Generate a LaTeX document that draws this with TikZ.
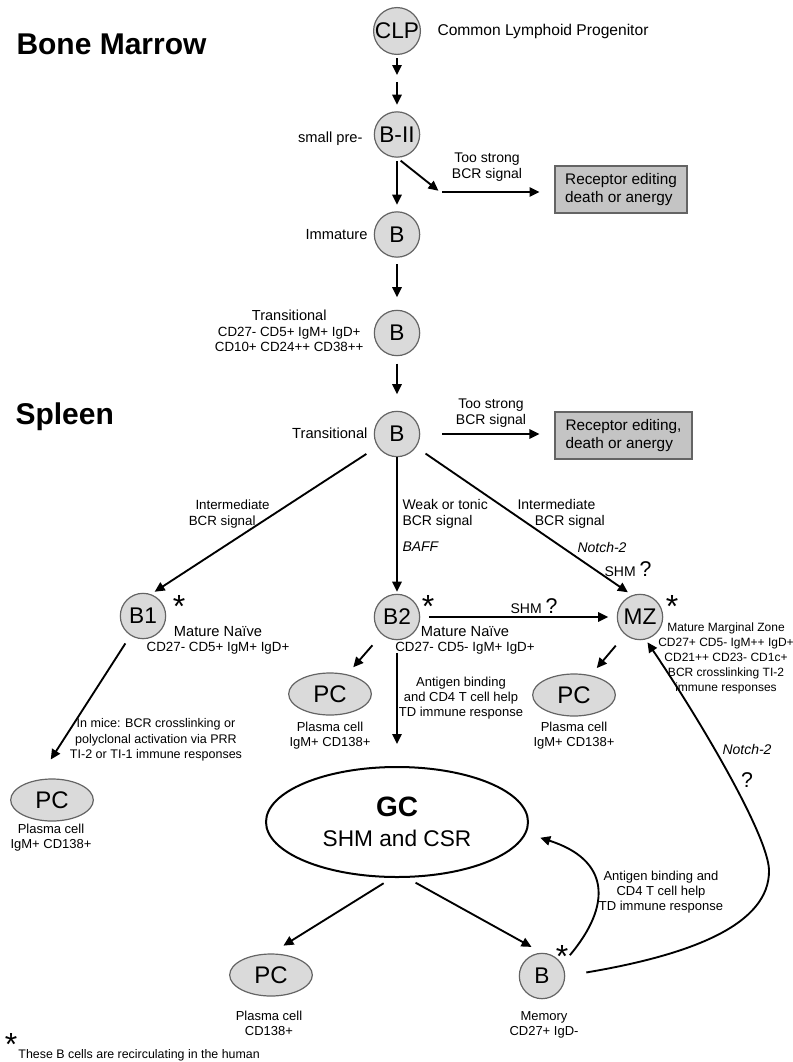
\documentclass[tikz,border=0pt]{standalone}
\usepackage{fontspec}
\setmainfont{Liberation Sans}
\usetikzlibrary{arrows.meta,shapes.geometric}
\definecolor{cellgray}{RGB}{218,218,218}
\definecolor{boxgray}{RGB}{196,196,196}
\definecolor{rimgray}{RGB}{100,100,100}
\newcommand{\astk}{\raisebox{-0.47em}[0.19em][0.19em]{*}}
\tikzset{every picture/.style={line width=0.75pt}}
\tikzset{
  cell/.style={circle,draw=rimgray,fill=cellgray,line width=0.9pt,minimum size=34pt,inner sep=0pt,font=\fontsize{17}{17}\selectfont},
  pcell/.style={ellipse,draw=rimgray,fill=cellgray,line width=0.9pt,minimum width=62pt,minimum height=31.5pt,inner sep=0pt,font=\fontsize{18}{18}\selectfont},
  fate/.style={rectangle,draw=rimgray,fill=boxgray,line width=1.1pt,minimum width=99pt,minimum height=35pt,inner sep=4pt,align=left,font=\fontsize{11.5}{13}\selectfont},
  arr/.style={-{Triangle[length=7.5pt,width=7pt]},line width=1.4pt},
  lbl/.style={inner sep=0.75pt,align=center,font=\fontsize{10.5}{12.5}\selectfont},
  small/.style={inner sep=0.75pt,align=center,font=\fontsize{9.75}{11.25}\selectfont},
  side/.style={inner sep=0pt,anchor=base east,font=\fontsize{11}{13}\selectfont},
  star/.style={inner sep=0pt,font=\fontsize{24}{24}\selectfont},
  region/.style={inner sep=0pt,anchor=base west,font=\fontsize{22.5}{22.5}\selectfont\bfseries},
}

\begin{document}
\begin{tikzpicture}[x=0.75pt,y=0.75pt,yscale=-1,xscale=1]
\useasboundingbox (0,0) rectangle (792,1062);

% Region titles
\draw (16,55) node [region] (bm) {Bone Marrow};
\draw (15,424) node [region] (spl) {Spleen};

%Shape: Circle cells
\draw (397,31) node [cell] (clp) {CLP};
\draw (397,134.5) node [cell] (bii) {B-II};
\draw (397,234.5) node [cell] (imm) {B};
\draw (397,333) node [cell] (tbm) {B};
\draw (397,434) node [cell] (tsp) {B};
\draw (143,616) node [cell] (b1) {B1};
\draw (397,617) node [cell] (b2) {B2};
\draw (640,617) node [cell] (mz) {MZ};
\draw (542,976) node [cell] (bmem) {B};

%Shape: Ellipse plasma cells
\draw (52,800) node [pcell] (pc1) {PC};
\draw (330,694) node [pcell] (pc2) {PC};
\draw (574,695) node [pcell] (pc3) {PC};
\draw (271,975) node [pcell] (pc4) {PC};

%Shape: Ellipse germinal centre
\draw (397,822) node [ellipse,draw=black,fill=white,line width=1.5pt,minimum width=196.5pt,minimum height=82.5pt,inner sep=0pt,align=center,font=\fontsize{17}{22.5}\selectfont] (gc) {{\fontsize{21}{21}\selectfont\bfseries GC}\\SHM and CSR};

%Shape: Rectangle
\draw (621,189.5) node [fate] (box1) {Receptor editing\\death or anergy};
\draw (623.5,435.5) node [fate,minimum width=103pt] (box2) {Receptor editing,\\death or anergy};

% Text Node
\draw (437,36) node [anchor=base west,inner sep=0pt,font=\fontsize{11.7}{14}\selectfont] (clplbl) {Common Lymphoid Progenitor};
% Text Node
\draw (363,143) node [side] (biilbl) {small pre-};
% Text Node
\draw (368,240) node [side] (immlbl) {Immature};
% Text Node
\draw (365,331) node [anchor=east,inner sep=0.75pt,align=center,font=\fontsize{10}{11.6}\selectfont] (tbmlbl) {{\fontsize{10.9}{11.6}\selectfont Transitional}\\CD27- CD5+ IgM+ IgD+\\CD10+ CD24++ CD38++};
% Text Node
\draw (368,438) node [side] (tsplbl) {Transitional};
% Text Node
\draw (487,167) node [lbl] (strong1) {Too strong\\BCR signal};
% Text Node
\draw (491,413) node [lbl] (strong2) {Too strong\\BCR signal};
% Text Node
\draw (194,514) node [lbl,anchor=west,align=left,font=\fontsize{10}{12}\selectfont] (intl) {Intermediate\\\hspace*{-5pt}BCR signal};
% Text Node
\draw (401,514) node [lbl,anchor=west,align=left] (weak) {Weak or tonic\\BCR signal};
% Text Node
\draw (401,547) node [lbl,anchor=west] (baff) {\itshape BAFF};
% Text Node
\draw (516,514) node [lbl,anchor=west,align=left] (intr) {Intermediate\\\hspace*{13pt}BCR signal};
% Text Node
\draw (602,547) node [lbl] (notcha) {\itshape Notch-2};
% Text Node
\draw (628,569) node [lbl] (shma) {SHM {\fontsize{16}{16}\selectfont ?}};
% Text Node
\draw (534,606) node [lbl] (shmb) {SHM {\fontsize{16}{16}\selectfont ?}};
% Text Node
\draw (218,640) node [small,font=\fontsize{10}{11.25}\selectfont] (b1lbl) {{\fontsize{11}{11.25}\selectfont Mature Naïve}\\CD27- CD5+ IgM+ IgD+};
% Text Node
\draw (465,640) node [small,font=\fontsize{10}{11.25}\selectfont] (b2lbl) {{\fontsize{11}{11.25}\selectfont Mature Naïve}\\CD27- CD5- IgM+ IgD+};
% Text Node
\draw (726,658) node [small,font=\fontsize{9}{11.25}\selectfont] (mzlbl) {Mature Marginal Zone\\CD27+ CD5- IgM++ IgD+\\CD21++ CD23- CD1c+\\BCR crosslinking TI-2\\immune responses};
% Text Node
\draw (461,698) node [small] (tdb2) {Antigen binding\\and CD4 T cell help\\TD immune response};
% Text Node
\draw (156,740) node [small,font=\fontsize{9.4}{11.6}\selectfont] (mice) {In mice: BCR crosslinking or\\polyclonal activation via PRR\\TI-2 or TI-1 immune responses};
% Text Node
\draw (330,735.5) node [small] (pc2lbl) {Plasma cell\\IgM+ CD138+};
% Text Node
\draw (574,735.5) node [small] (pc3lbl) {Plasma cell\\IgM+ CD138+};
% Text Node
\draw (51,838) node [small] (pc1lbl) {Plasma cell\\IgM+ CD138+};
% Text Node
\draw (269,1023.5) node [small] (pc4lbl) {Plasma cell\\CD138+};
% Text Node
\draw (544,1024.5) node [small] (memlbl) {Memory\\CD27+ IgD-};
% Text Node
\draw (661,892) node [small] (tdmem) {Antigen binding and\\CD4 T cell help\\TD immune response};
% Text Node
\draw (747,749) node [lbl] (notchb) {\itshape Notch-2};
% Text Node
\draw (747,780) node [lbl,font=\fontsize{16}{16}\selectfont] (qmark) {?};
% Text Node
\draw (18,1058.5) node [anchor=base west,inner sep=0pt,font=\fontsize{9.3}{11}\selectfont] (note) {These B cells are recirculating in the human};

% Asterisks
\draw (179,602) node [star] (s1) {\astk};
\draw (428,602) node [star] (s2) {\astk};
\draw (672,602) node [star] (s3) {\astk};
\draw (562,952) node [star] (s4) {\astk};
\draw (11,1040) node [star] (s5) {\astk};

%Straight Lines
\coordinate (clpgap) at (397,78.5);
\coordinate (split) at (440,192);
\draw [arr,shorten <=2.6pt,shorten >=2.6pt] (clp) -- (clpgap);
\draw [arr,shorten <=2.6pt,shorten >=4.9pt] (clpgap) -- (bii);
\draw [arr,shorten <=2.6pt,shorten >=4.9pt] (bii) -- (imm);
\draw [arr,shorten <=3.5pt,shorten >=1.5pt] (bii.south) -- (split);
\draw [arr,shorten <=1.5pt,shorten >=11pt] (split) -- (split -| box1.west);
\draw [arr,shorten <=5pt,shorten >=9.4pt] (imm) -- (tbm);
\draw [arr,shorten <=5.6pt,shorten >=12.4pt] (tbm) -- (tsp);
\draw [arr,shorten <=16.5pt,shorten >=11pt] (tsp.east) -- (tsp.east -| box2.west);
\draw [arr,shorten <=10pt,shorten >=3.3pt] (tsp) -- (b1.70);
\draw [arr,shorten >=1.5pt] (tsp) -- (b2);
\draw [arr,shorten <=8.5pt,shorten >=3.8pt] (tsp) -- (mz.110);
\draw [arr,shorten <=6.4pt,shorten >=6.4pt] (b2) -- (mz);
\draw [arr,shorten <=7pt,shorten >=18pt] (b1) -- (pc1.125);
\draw [arr,shorten <=10.7pt,shorten >=7pt] (b2) -- (pc2);
\draw [arr,shorten <=10.7pt,shorten >=7pt] (mz) -- (pc3);
\draw [arr,shorten <=9.4pt,shorten >=16.5pt] (b2) -- (gc);
\draw [arr,shorten <=7.5pt,shorten >=11pt] (gc.-95) -- (pc4.north);
\draw [arr,shorten <=7.5pt,shorten >=9pt] (gc.-80) -- (bmem.north);

%Curve Lines
\draw [arr,shorten <=9pt,shorten >=11pt] (bmem.30) .. controls (612,905) and (610,860) .. (gc.-5);
\draw [arr,shorten <=16pt,shorten >=2.5pt] (bmem.east) .. controls (690,955) and (770,925) .. (769,870) .. controls (768,835) and (700,720) .. (mz.-76);
\end{tikzpicture}
\end{document}
